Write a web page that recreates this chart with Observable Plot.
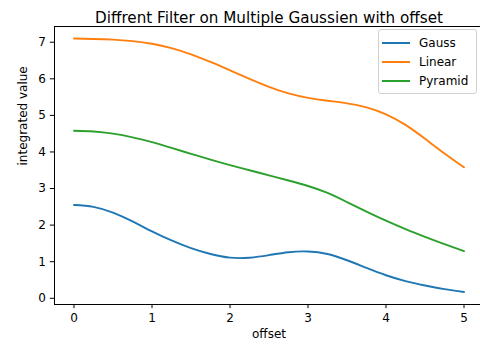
<!DOCTYPE html>
<html>
<head>
<meta charset="utf-8">
<script src="https://cdn.jsdelivr.net/npm/d3@7"></script>
<script src="https://cdn.jsdelivr.net/npm/@observablehq/plot@0.6"></script>
<style>
  html, body { margin: 0; padding: 0; background: #fff; overflow: hidden; }
  #wrap { position: relative; width: 480px; height: 349px; }
  #legend {
    position: absolute; left: 378px; top: 29px; width: 97px; height: 63px;
    border: 1px solid #d0d0d0; border-radius: 3px; background: rgba(255,255,255,0.8);
    font: 12px "DejaVu Sans", sans-serif; color: #000; box-sizing: content-box;
  }
  .item { position: absolute; left: 0; height: 14px; display: flex; align-items: center; white-space: nowrap; }
  .swatch { width: 28px; height: 2px; margin-left: 3px; margin-right: 9px; }
</style>
</head>
<body>
<div id="wrap"></div>
<script>
const titleText = "Diffrent Filter on Multiple Gaussien with offset";
const xLabel = "offset";
const yLabel = "integrated value";

const offsets = [0, 0.25, 0.5, 0.75, 1, 1.25, 1.5, 1.75, 2, 2.25, 2.5, 2.75, 3, 3.25, 3.5, 3.75, 4, 4.25, 4.5, 4.75, 5];

const gauss   = [2.55, 2.50, 2.34, 2.10, 1.83, 1.58, 1.37, 1.21, 1.11, 1.11, 1.18, 1.26, 1.28, 1.21, 1.04, 0.83, 0.63, 0.47, 0.35, 0.25, 0.17];
const linear  = [7.10, 7.09, 7.07, 7.03, 6.96, 6.84, 6.67, 6.46, 6.23, 6.00, 5.78, 5.60, 5.48, 5.40, 5.33, 5.22, 5.03, 4.74, 4.36, 3.96, 3.58];
const pyramid = [4.58, 4.56, 4.50, 4.40, 4.27, 4.11, 3.95, 3.79, 3.64, 3.50, 3.36, 3.22, 3.07, 2.88, 2.63, 2.37, 2.12, 1.89, 1.68, 1.48, 1.29];

const seriesNames = ["Gauss", "Linear", "Pyramid"];
const seriesColors = ["#1f77b4", "#ff7f0e", "#2ca02c"];
const xTicks = [0, 1, 2, 3, 4, 5];
const yTicks = [0, 1, 2, 3, 4, 5, 6, 7];

const seriesValues = [gauss, linear, pyramid];
const rows = seriesNames.flatMap((name, i) =>
  offsets.map((x, j) => ({series: name, x, y: seriesValues[i][j]}))
);

const chart = Plot.plot({
  width: 480,
  height: 349,
  marginLeft: 54,
  marginRight: -3,
  marginTop: 26,
  marginBottom: 45,
  style: {fontFamily: "DejaVu Sans", fontSize: "12px", color: "#000", background: "#fff"},
  x: {domain: [-0.25, 5.25], label: null},
  y: {domain: [-0.17, 7.43], label: null},
  color: {domain: seriesNames, range: seriesColors},
  marks: [
    Plot.line(rows, {x: "x", y: "y", z: "series", stroke: "series", strokeWidth: 1.9, curve: "natural"}),
    Plot.frame({stroke: "#000", strokeWidth: 1}),
    Plot.axisX({ticks: xTicks, tickSize: 4.2, tickPadding: 5, tickFormat: d3.format("d"), label: null, fontSize: 12}),
    Plot.axisY({ticks: yTicks, tickSize: 4.2, tickPadding: 4.3, tickFormat: d3.format("d"), label: null, fontSize: 12}),
    Plot.text([titleText], {frameAnchor: "top", dy: -14, fontSize: 15.2, fill: "#000"}),
    Plot.text([xLabel], {frameAnchor: "bottom", dy: 33, fontSize: 12, fill: "#000"}),
    Plot.text([yLabel], {frameAnchor: "left", dx: -31, rotate: -90, fontSize: 12, fill: "#000"})
  ]
});

const wrap = document.getElementById("wrap");
wrap.appendChild(chart);

// legend box in the upper right of the axes
const legend = document.createElement("div");
legend.id = "legend";
seriesNames.forEach((name, i) => {
  const item = document.createElement("div");
  item.className = "item";
  item.style.top = (5.7 + i * 19.3) + "px";
  const sw = document.createElement("span");
  sw.className = "swatch";
  sw.style.background = seriesColors[i];
  const label = document.createElement("span");
  label.textContent = name;
  item.appendChild(sw);
  item.appendChild(label);
  legend.appendChild(item);
});
wrap.appendChild(legend);
</script>
</body>
</html>
